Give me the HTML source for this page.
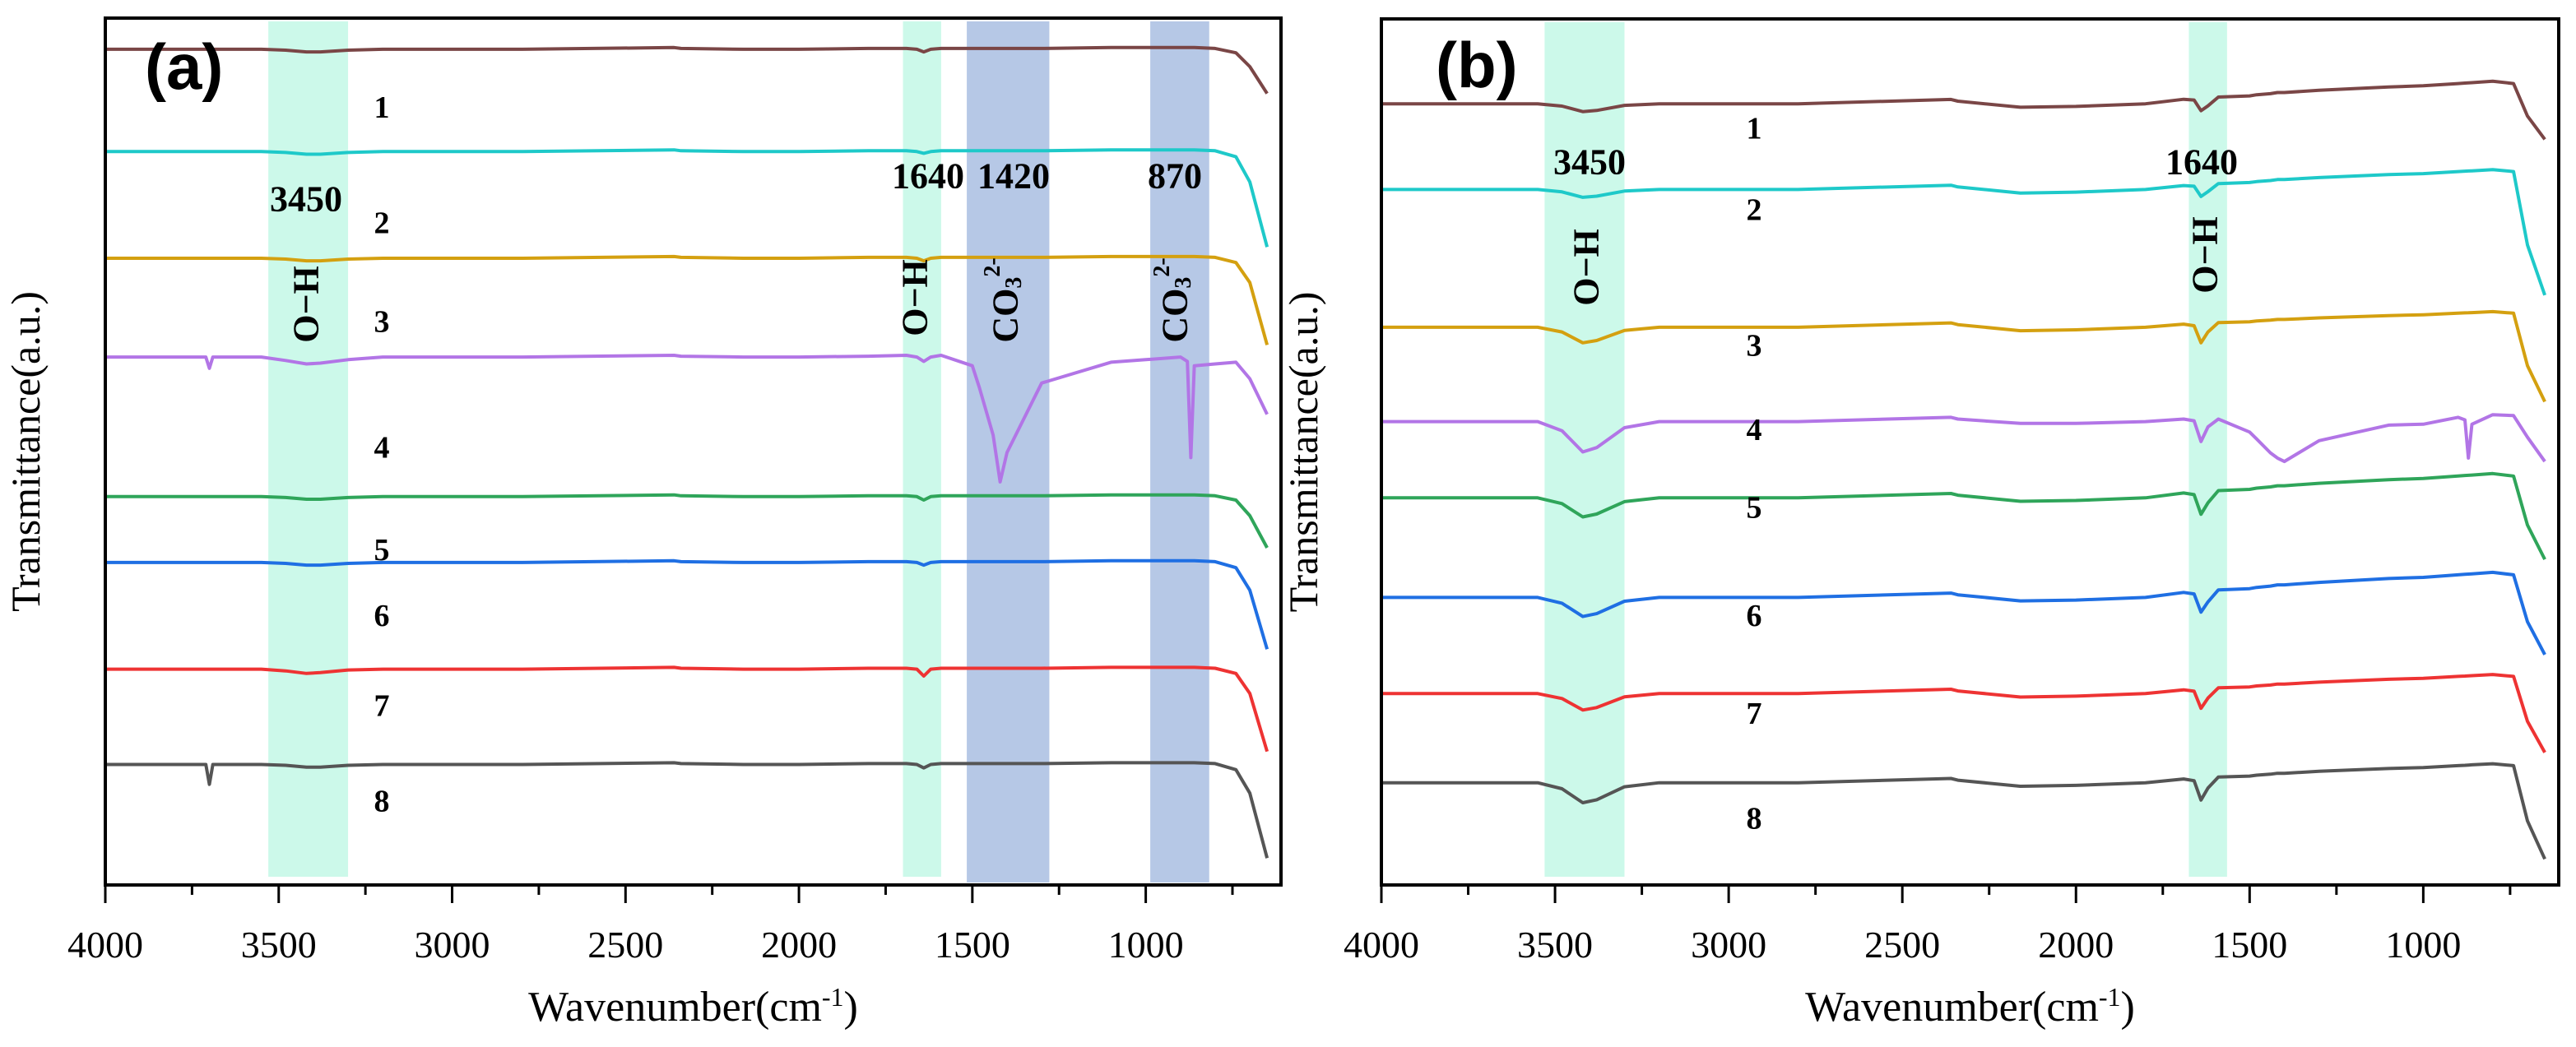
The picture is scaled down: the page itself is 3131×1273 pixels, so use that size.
<!DOCTYPE html>
<html><head><meta charset="utf-8">
<style>
html,body{margin:0;padding:0;background:#fff;}
svg{display:block;font-family:"Liberation Serif",serif;}
svg text{font-family:"Liberation Serif",serif;}
svg text.sans{font-family:"Liberation Sans",sans-serif;}
</style></head>
<body>
<svg id="chart" width="3131" height="1273" viewBox="0 0 3131 1273" xmlns="http://www.w3.org/2000/svg">
<g id="panelA"></g>
<g id="panelB"></g>
</svg>
<script>
// shared wavenumber grid (cm-1)
const wavenumbers = [4000,3710,3700,3690,3550,3480,3420,3380,3300,3200,2800,2360,2340,2160,2000,1800,1690,1660,1640,1620,1590,1500,1480,1440,1420,1400,1300,1100,1000,900,880,870,860,800,740,700,650];
const xTicks = [4000,3500,3000,2500,2000,1500,1000];
const seriesNames = ["1","2","3","4","5","6","7","8"];
const colors = ["#7a4646","#1ec9c9","#d4a010","#b275e6","#2fa55a","#1f6fe3","#ee3333","#555555"];
// panel (a): baselines (transmittance units, 0=bottom,100=top) and deviations
const offsetsA = [96.4,84.6,72.3,60.9,44.8,37.2,24.9,13.9];
const devA1 = [0,0,0,0,0,-0.1,-0.3,-0.3,-0.1,0,0,0.2,0.1,0,0,0.1,0.1,0,-0.3,0,0.1,0.1,0.1,0.1,0.1,0.1,0.1,0.2,0.2,0.2,0.2,0.2,0.2,0.1,-0.4,-2.0,-5.1];
const devA2 = [0,0,0,0,0,-0.1,-0.3,-0.3,-0.1,0,0,0.2,0.1,0,0,0.1,0.1,0,-0.2,0,0.1,0.1,0.1,0.1,0.1,0.1,0.1,0.2,0.2,0.2,0.2,0.2,0.2,0.1,-0.6,-3.5,-11];
const devA3 = [0,0,0,0,0,-0.1,-0.3,-0.3,-0.1,0,0,0.2,0.1,0,0,0.1,0.1,0,-0.3,0,0.1,0.1,0.1,0.1,0.1,0.1,0.1,0.2,0.2,0.2,0.2,0.2,0.2,0.1,-0.5,-2.8,-10];
const devA4 = [0,0,-1.3,0,0,-0.4,-0.8,-0.7,-0.3,0,0,0.2,0.1,0,0,0.1,0.2,0,-0.5,0,0.2,-1.0,-3.5,-9,-14.4,-11,-3,-0.6,-0.3,0,-0.5,-11.6,-1,-0.8,-0.6,-2.5,-6.6];
const devA5 = [0,0,0,0,0,-0.1,-0.3,-0.3,-0.1,0,0,0.2,0.1,0,0,0.1,0.1,0,-0.4,0,0.1,0.1,0.1,0.1,0.1,0.1,0.1,0.2,0.2,0.2,0.2,0.2,0.2,0.1,-0.4,-2.2,-5.9];
const devA6 = [0,0,0,0,0,-0.1,-0.3,-0.3,-0.1,0,0,0.2,0.1,0,0,0.1,0.1,0,-0.3,0,0.1,0.1,0.1,0.1,0.1,0.1,0.1,0.2,0.2,0.2,0.2,0.2,0.2,0.1,-0.6,-3.2,-10];
const devA7 = [0,0,0,0,0,-0.2,-0.5,-0.4,-0.1,0,0,0.2,0.1,0,0,0.1,0.1,0,-0.8,0,0.1,0.1,0.1,0.1,0.1,0.1,0.1,0.2,0.2,0.2,0.2,0.2,0.2,0.1,-0.5,-2.8,-9.5];
const devA8 = [0,0,-2.3,0,0,-0.1,-0.3,-0.3,-0.1,0,0,0.2,0.1,0,0,0.1,0.1,0,-0.4,0,0.1,0.1,0.1,0.1,0.1,0.1,0.1,0.2,0.2,0.2,0.2,0.2,0.2,0.1,-0.6,-3.3,-10.8];
// panel (b)
const offsetsB = [90.2,80.3,64.4,53.5,44.7,33.2,22.1,11.8];
const devB1 = [0,0,0,0,0,-0.27,-0.9,-0.77,-0.18,0,0,0.5,0.3,-0.4,-0.3,0,0.52,0.44,-0.8,-0.24,0.78,0.91,1.04,1.17,1.3,1.3,1.56,1.95,2.08,2.34,2.39,2.42,2.44,2.6,2.34,-1.42,-4.1];
const devB2 = [0,0,0,0,0,-0.27,-0.9,-0.77,-0.18,0,0,0.5,0.3,-0.4,-0.3,0,0.46,0.38,-0.8,-0.24,0.69,0.81,0.92,1.04,1.15,1.15,1.38,1.73,1.84,2.07,2.12,2.14,2.16,2.3,2.07,-6.4,-12.2];
const devB3 = [0,0,0,0,0,-0.54,-1.8,-1.53,-0.36,0,0,0.5,0.3,-0.4,-0.3,0,0.36,0.18,-1.8,-0.54,0.54,0.63,0.72,0.81,0.9,0.9,1.08,1.35,1.44,1.62,1.66,1.67,1.69,1.8,1.62,-4.44,-8.6];
const devB4 = [0,0,0,0,0,-1.05,-3.5,-3.0,-0.7,0,0,0.5,0.3,-0.2,-0.2,0,0.3,0.1,-2.3,-0.6,0.3,-1.2,-2.0,-3.6,-4.2,-4.6,-2.2,-0.4,-0.3,0.5,0.2,-4.2,-0.3,0.8,0.7,-1.8,-4.6];
const devB5 = [0,0,0,0,0,-0.66,-2.2,-1.87,-0.44,0,0,0.5,0.3,-0.4,-0.3,0,0.56,0.37,-1.9,-0.57,0.84,0.98,1.12,1.26,1.4,1.4,1.68,2.1,2.24,2.52,2.58,2.6,2.63,2.8,2.52,-3.14,-7.1];
const devB6 = [0,0,0,0,0,-0.66,-2.2,-1.87,-0.44,0,0,0.5,0.3,-0.4,-0.3,0,0.58,0.41,-1.7,-0.51,0.87,1.02,1.16,1.31,1.45,1.45,1.74,2.18,2.32,2.61,2.67,2.7,2.73,2.9,2.61,-2.8,-6.6];
const devB7 = [0,0,0,0,0,-0.57,-1.9,-1.62,-0.38,0,0,0.5,0.3,-0.4,-0.3,0,0.44,0.27,-1.7,-0.51,0.66,0.77,0.88,0.99,1.1,1.1,1.32,1.65,1.76,1.98,2.02,2.05,2.07,2.2,1.98,-3.2,-6.8];
const devB8 = [0,0,0,0,0,-0.69,-2.3,-1.96,-0.46,0,0,0.5,0.3,-0.4,-0.3,0,0.44,0.24,-2.0,-0.6,0.66,0.77,0.88,0.99,1.1,1.1,1.32,1.65,1.76,1.98,2.02,2.05,2.07,2.2,1.98,-4.4,-8.8];
// highlighted bands [from, to] cm-1
const bandsA = [[3530,3300,"oh"],[1700,1590,"oh"],[1516,1278,"co3"],[987,817,"co3"]];
const bandsB = [[3530,3300,"oh"],[1675,1565,"oh"]];
const labelYA = [88.5,75.2,63.8,49.3,37.5,29.9,19.5,8.5];
const labelYB = [86.2,76.8,61.1,51.4,42.4,29.9,18.6,6.5];

const NS = "http://www.w3.org/2000/svg";
function mk(parent, tag, attrs, text){
  const el = document.createElementNS(NS, tag);
  for (const k in attrs) el.setAttribute(k, attrs[k]);
  if (text !== undefined) el.textContent = text;
  parent.appendChild(el);
  return el;
}

function drawPanel(g, cfg){
  const L=cfg.left, R=cfg.right, T=cfg.top, B=cfg.bottom;
  const x = w => L + (4000 - w) / (4000 - 610) * (R - L);
  const y = v => B - v / 100 * (B - T);
  cfg.bands.forEach((b,i)=>{
    const r = mk(g,'rect',{x:x(b[0]),y:T+4,width:x(b[1])-x(b[0]),height:(b[2]==='oh'?B-10:B-3)-T-4,fill:b[2]==='oh'?'#ccf9ea':'#b6c8e6'});
    
    
  });
  cfg.devs.forEach((dev,i)=>{
    let d='';
    wavenumbers.forEach((w,j)=>{ d += (j?'L':'M') + x(w).toFixed(1) + ',' + y(cfg.offsets[i] + dev[j]).toFixed(1); });
    const p = mk(g,'path',{d:d,fill:'none',stroke:colors[i],'stroke-width':4,'stroke-linejoin':'round'});
    
    
    const t = mk(g,'text',{x:cfg.labelX,y:y(cfg.labelY[i]),'font-size':38,'font-weight':'bold','text-anchor':'middle','font-family':'Liberation Serif, serif'},seriesNames[i]);
    
    
  });
  const f = mk(g,'rect',{x:L,y:T,width:R-L,height:B-T,fill:'none',stroke:'#000','stroke-width':4});
  
  
  for (let w=4000; w>=650; w-=250){
    const major = w % 500 === 0;
    const tk = mk(g,'line',{x1:x(w),x2:x(w),y1:B,y2:B+(major?22:12),stroke:'#000','stroke-width':3});
    
    
  }
  xTicks.forEach(w=>{
    const t = mk(g,'text',{x:x(w),y:B+88,'font-size':46,'text-anchor':'middle','font-family':'Liberation Serif, serif'},String(w));
    
    
  });
  const xt = mk(g,'text',{x:(L+R)/2,y:B+165,'font-size':52,'text-anchor':'middle','font-family':'Liberation Serif, serif'});
  
  
  xt.appendChild(document.createTextNode('Wavenumber(cm'));
  mk(xt,'tspan',{'baseline-shift':'super','font-size':32},'-1');
  xt.appendChild(document.createTextNode(')'));
  const yt = mk(g,'text',{x:0,y:0,'font-size':50,'text-anchor':'middle','font-family':'Liberation Serif, serif',transform:'translate('+cfg.yTitleX+','+((T+B)/2)+') rotate(-90)'},'Transmittance(a.u.)');
  
  
  const pl = mk(g,'text',{x:cfg.tagX,y:cfg.tagY,'font-size':78,'font-weight':'bold','class':'sans','font-family':'Liberation Sans, sans-serif'},cfg.tag);
  
  
  return {x:x,y:y};
}

function ann(g, txt, xx, yy, rot, name){
  const t = mk(g,'text',{x:0,y:0,'font-size':44,'font-weight':'bold','text-anchor':'middle','dominant-baseline':'central','font-family':'Liberation Serif, serif',transform:'translate('+xx+','+yy+')'+(rot?' rotate(-90)':'')},txt);
  
  
  return t;
}
function co3(g, xx, yy){
  const t = mk(g,'text',{x:0,y:0,'font-size':44,'font-weight':'bold','text-anchor':'middle','dominant-baseline':'central','font-family':'Liberation Serif, serif',transform:'translate('+xx+','+yy+') rotate(-90)'});
  
  
  t.appendChild(document.createTextNode('CO'));
  mk(t,'tspan',{'font-size':28,dy:10},'3');
  mk(t,'tspan',{'font-size':28,dy:-26},'2-');
}

const gA = document.getElementById('panelA');
drawPanel(gA,{left:128,right:1557,top:22,bottom:1076,offsets:offsetsA,devs:[devA1,devA2,devA3,devA4,devA5,devA6,devA7,devA8],bands:bandsA,labelX:464,labelY:labelYA,yTitleX:48,tag:'(a)',tagX:176,tagY:108});
ann(gA,'3450',372,242,false,'peak-3450-label');
ann(gA,'O−H',372,370,true,'oh-annotation');
ann(gA,'1640',1128,214,false,'peak-1640-label');
ann(gA,'1420',1232,214,false,'peak-1420-label');
ann(gA,'870',1428,214,false,'peak-870-label');
ann(gA,'O−H',1112,362,true,'oh-annotation-1640');
co3(gA,1222,365);
co3(gA,1428,365);

const gB = document.getElementById('panelB');
drawPanel(gB,{left:1679,right:3110,top:23,bottom:1076,offsets:offsetsB,devs:[devB1,devB2,devB3,devB4,devB5,devB6,devB7,devB8],bands:bandsB,labelX:2132,labelY:labelYB,yTitleX:1601,tag:'(b)',tagX:1745,tagY:106});
ann(gB,'3450',1932,197,false,'peak-3450-label');
ann(gB,'O−H',1928,325,true,'oh-annotation');
ann(gB,'1640',2676,197,false,'peak-1640-label');
ann(gB,'O−H',2680,310,true,'oh-annotation-1640');
</script>
</body></html>
